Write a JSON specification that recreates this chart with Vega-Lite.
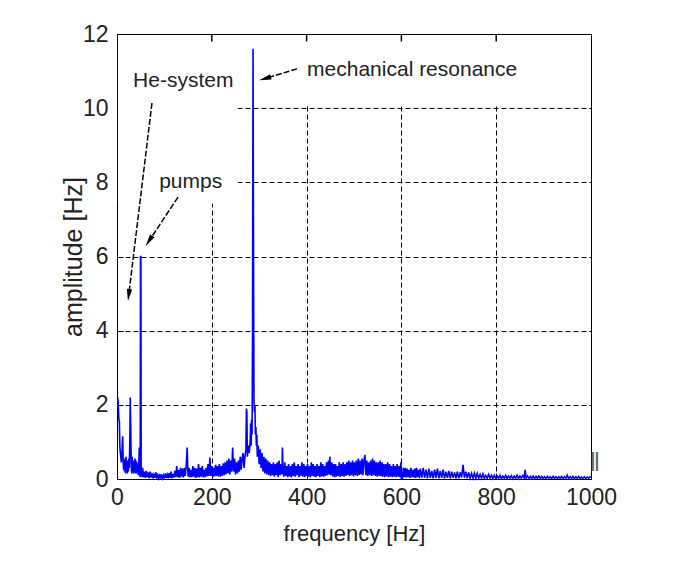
{
  "$schema": "https://vega.github.io/schema/vega-lite/v6.json",
  "autosize": {"type": "none"},
  "padding": {"left": 117, "top": 34, "right": 96, "bottom": 90},
  "width": 474,
  "height": 445,
  "background": "white",
  "config": {
    "view": {"stroke": "black", "strokeWidth": 1},
    "font": "Liberation Sans"
  },
  "datasets": {
    "spectrum": [
      {"f":0,"a":2.2},{"f":1,"a":2.2},{"f":2,"a":2.15},{"f":3,"a":1.9},{"f":4,"a":1.6},{"f":5,"a":1.55},{"f":6,"a":0.9},{"f":7,"a":0.7},{"f":8,"a":0.6},{"f":9,"a":0.45},
      {"f":10,"a":0.55},{"f":11,"a":0.9},{"f":12,"a":1.15},{"f":13,"a":0.5},{"f":14,"a":0.25},{"f":15,"a":0.5},{"f":16,"a":0.2},{"f":17,"a":0.55},{"f":18,"a":0.15},{"f":19,"a":0.6},
      {"f":20,"a":0.2},{"f":21,"a":0.45},{"f":22,"a":0.15},{"f":23,"a":0.5},{"f":24,"a":0.2},{"f":25,"a":0.55},{"f":26,"a":0.3},{"f":27,"a":1.0},{"f":28,"a":2.2},{"f":29,"a":1.4},
      {"f":30,"a":0.4},{"f":31,"a":0.15},{"f":32,"a":0.6},{"f":33,"a":0.2},{"f":34,"a":0.5},{"f":35,"a":0.15},{"f":36,"a":0.45},{"f":37,"a":0.2},{"f":38,"a":0.55},{"f":39,"a":0.15},
      {"f":40,"a":0.5},{"f":41,"a":0.15},{"f":42,"a":0.45},{"f":43,"a":0.2},{"f":44,"a":0.4},{"f":45,"a":0.1},{"f":46,"a":0.35},{"f":47,"a":0.85},{"f":48,"a":0.2},{"f":49,"a":0.05},
      {"f":49.6,"a":6.0},{"f":50.4,"a":6.0},{"f":51,"a":0.1},{"f":52,"a":0.25},{"f":53,"a":0.05},{"f":54,"a":0.3},{"f":56,"a":0.05},{"f":58,"a":0.2},{"f":60,"a":0.03},{"f":62,"a":0.22},{"f":64,"a":0.05},
      {"f":66,"a":0.18},{"f":68,"a":0.02},{"f":70,"a":0.2},{"f":72,"a":0.04},{"f":74,"a":0.15},{"f":76,"a":0.02},{"f":78,"a":0.12},{"f":80,"a":0.03},{"f":82,"a":0.18},{"f":84,"a":0.01},
      {"f":86,"a":0.1},{"f":88,"a":0.02},{"f":90,"a":0.14},{"f":92,"a":0.01},{"f":94,"a":0.12},{"f":96,"a":0.02},{"f":98,"a":0.1},{"f":100,"a":0.01},{"f":102,"a":0.15},{"f":104,"a":0.03},
      {"f":106,"a":0.12},{"f":108,"a":0.02},{"f":110,"a":0.16},{"f":112,"a":0.03},{"f":114,"a":0.2},{"f":116,"a":0.02},{"f":118,"a":0.14},{"f":120,"a":0.04},{"f":122,"a":0.22},{"f":124,"a":0.05},
      {"f":126,"a":0.35},{"f":128,"a":0.05},{"f":130,"a":0.25},{"f":132,"a":0.03},{"f":134,"a":0.3},{"f":136,"a":0.06},{"f":138,"a":0.28},{"f":140,"a":0.04},{"f":142,"a":0.3},{"f":144,"a":0.08},
      {"f":146,"a":0.35},{"f":148,"a":0.85},{"f":149,"a":0.4},{"f":150,"a":0.06},{"f":152,"a":0.3},{"f":154,"a":0.04},{"f":156,"a":0.25},{"f":158,"a":0.05},{"f":160,"a":0.35},{"f":162,"a":0.06},
      {"f":164,"a":0.3},{"f":166,"a":0.03},{"f":168,"a":0.28},{"f":170,"a":0.05},{"f":172,"a":0.4},{"f":174,"a":0.04},{"f":176,"a":0.3},{"f":178,"a":0.06},{"f":180,"a":0.35},{"f":182,"a":0.04},
      {"f":184,"a":0.25},{"f":186,"a":0.05},{"f":188,"a":0.3},{"f":190,"a":0.07},{"f":192,"a":0.4},{"f":194,"a":0.08},{"f":196,"a":0.58},{"f":198,"a":0.08},{"f":200,"a":0.35},{"f":202,"a":0.05},
      {"f":204,"a":0.3},{"f":206,"a":0.07},{"f":208,"a":0.38},{"f":210,"a":0.08},{"f":212,"a":0.35},{"f":214,"a":0.07},{"f":216,"a":0.4},{"f":218,"a":0.06},{"f":220,"a":0.35},{"f":222,"a":0.08},
      {"f":224,"a":0.42},{"f":226,"a":0.1},{"f":228,"a":0.45},{"f":230,"a":0.12},{"f":232,"a":0.5},{"f":234,"a":0.15},{"f":236,"a":0.55},{"f":238,"a":0.12},{"f":240,"a":0.5},{"f":242,"a":0.2},
      {"f":244,"a":0.85},{"f":246,"a":0.2},{"f":248,"a":0.55},{"f":250,"a":0.12},{"f":252,"a":0.45},{"f":254,"a":0.15},{"f":256,"a":0.5},{"f":258,"a":0.2},{"f":260,"a":0.6},{"f":262,"a":0.25},
      {"f":264,"a":0.55},{"f":266,"a":0.7},{"f":268,"a":0.3},{"f":270,"a":0.6},{"f":272,"a":0.8},{"f":273,"a":1.9},{"f":274,"a":1.8},{"f":275,"a":0.6},{"f":277,"a":0.9},{"f":279,"a":0.7},
      {"f":281,"a":1.0},{"f":282,"a":1.5},{"f":283,"a":0.9},{"f":284,"a":1.6},{"f":285,"a":1.2},{"f":286,"a":4.0},{"f":287,"a":11.6},{"f":288,"a":6.0},{"f":289,"a":2.1},{"f":290,"a":1.8},
      {"f":291,"a":2.0},{"f":292,"a":1.2},{"f":293,"a":1.4},{"f":294,"a":0.9},{"f":295,"a":1.2},{"f":296,"a":0.6},{"f":298,"a":0.9},{"f":300,"a":0.4},{"f":302,"a":0.8},{"f":304,"a":0.3},
      {"f":306,"a":0.7},{"f":308,"a":0.2},{"f":310,"a":0.6},{"f":312,"a":0.15},{"f":314,"a":0.55},{"f":316,"a":0.12},{"f":318,"a":0.5},{"f":320,"a":0.1},{"f":322,"a":0.45},{"f":324,"a":0.08},
      {"f":326,"a":0.4},{"f":328,"a":0.1},{"f":330,"a":0.45},{"f":332,"a":0.06},{"f":334,"a":0.4},{"f":336,"a":0.1},{"f":338,"a":0.45},{"f":340,"a":0.05},{"f":342,"a":0.5},{"f":344,"a":0.1},
      {"f":346,"a":0.4},{"f":348,"a":0.12},{"f":349,"a":0.85},{"f":350,"a":0.3},{"f":352,"a":0.06},{"f":354,"a":0.45},{"f":356,"a":0.08},{"f":358,"a":0.35},{"f":360,"a":0.05},{"f":362,"a":0.4},
      {"f":364,"a":0.07},{"f":366,"a":0.35},{"f":368,"a":0.04},{"f":370,"a":0.4},{"f":372,"a":0.08},{"f":374,"a":0.45},{"f":376,"a":0.06},{"f":378,"a":0.35},{"f":380,"a":0.1},{"f":382,"a":0.4},
      {"f":384,"a":0.05},{"f":386,"a":0.35},{"f":388,"a":0.08},{"f":390,"a":0.45},{"f":392,"a":0.06},{"f":394,"a":0.4},{"f":396,"a":0.05},{"f":398,"a":0.35},{"f":400,"a":0.08},{"f":402,"a":0.4},
      {"f":404,"a":0.06},{"f":406,"a":0.35},{"f":408,"a":0.04},{"f":410,"a":0.45},{"f":412,"a":0.08},{"f":414,"a":0.4},{"f":416,"a":0.06},{"f":418,"a":0.35},{"f":420,"a":0.05},{"f":422,"a":0.4},
      {"f":424,"a":0.08},{"f":426,"a":0.35},{"f":428,"a":0.05},{"f":430,"a":0.45},{"f":432,"a":0.07},{"f":434,"a":0.4},{"f":436,"a":0.06},{"f":438,"a":0.35},{"f":440,"a":0.08},{"f":442,"a":0.45},
      {"f":444,"a":0.1},{"f":446,"a":0.5},{"f":448,"a":0.12},{"f":449,"a":0.6},{"f":451,"a":0.1},{"f":453,"a":0.45},{"f":455,"a":0.07},{"f":457,"a":0.4},{"f":459,"a":0.05},{"f":461,"a":0.4},
      {"f":463,"a":0.06},{"f":465,"a":0.35},{"f":467,"a":0.08},{"f":469,"a":0.45},{"f":471,"a":0.05},{"f":473,"a":0.4},{"f":475,"a":0.08},{"f":477,"a":0.45},{"f":479,"a":0.06},{"f":481,"a":0.4},
      {"f":483,"a":0.08},{"f":485,"a":0.45},{"f":487,"a":0.1},{"f":489,"a":0.5},{"f":491,"a":0.08},{"f":493,"a":0.45},{"f":495,"a":0.1},{"f":497,"a":0.5},{"f":499,"a":0.07},{"f":501,"a":0.45},
      {"f":503,"a":0.1},{"f":505,"a":0.5},{"f":507,"a":0.08},{"f":509,"a":0.55},{"f":511,"a":0.1},{"f":513,"a":0.5},{"f":515,"a":0.12},{"f":517,"a":0.55},{"f":519,"a":0.1},{"f":521,"a":0.5},
      {"f":523,"a":0.65},{"f":525,"a":0.1},{"f":527,"a":0.5},{"f":529,"a":0.08},{"f":531,"a":0.45},{"f":533,"a":0.1},{"f":535,"a":0.5},{"f":537,"a":0.08},{"f":539,"a":0.55},{"f":541,"a":0.1},
      {"f":543,"a":0.5},{"f":545,"a":0.08},{"f":547,"a":0.45},{"f":549,"a":0.06},{"f":551,"a":0.45},{"f":553,"a":0.08},{"f":555,"a":0.5},{"f":557,"a":0.07},{"f":559,"a":0.45},{"f":561,"a":0.06},
      {"f":563,"a":0.4},{"f":565,"a":0.05},{"f":567,"a":0.4},{"f":569,"a":0.07},{"f":571,"a":0.45},{"f":573,"a":0.05},{"f":575,"a":0.4},{"f":577,"a":0.06},{"f":579,"a":0.35},{"f":581,"a":0.05},
      {"f":583,"a":0.4},{"f":585,"a":0.06},{"f":587,"a":0.35},{"f":589,"a":0.05},{"f":591,"a":0.4},{"f":593,"a":0.06},{"f":595,"a":0.35},{"f":597,"a":0.05},{"f":599,"a":0.45},{"f":600,"a":0.0},
      {"f":602,"a":0.01},{"f":604,"a":0.3},{"f":606,"a":0.05},{"f":608,"a":0.3},{"f":610,"a":0.04},{"f":612,"a":0.28},{"f":614,"a":0.05},{"f":616,"a":0.25},{"f":618,"a":0.03},{"f":620,"a":0.3},
      {"f":622,"a":0.05},{"f":624,"a":0.25},{"f":626,"a":0.04},{"f":628,"a":0.28},{"f":630,"a":0.03},{"f":632,"a":0.3},{"f":634,"a":0.05},{"f":636,"a":0.25},{"f":638,"a":0.02},{"f":640,"a":0.28},
      {"f":643,"a":0.04},{"f":646,"a":0.3},{"f":649,"a":0.03},{"f":652,"a":0.25},{"f":655,"a":0.02},{"f":658,"a":0.28},{"f":661,"a":0.03},{"f":664,"a":0.22},{"f":667,"a":0.02},{"f":670,"a":0.25},
      {"f":673,"a":0.03},{"f":676,"a":0.28},{"f":679,"a":0.02},{"f":682,"a":0.22},{"f":685,"a":0.03},{"f":688,"a":0.25},{"f":691,"a":0.02},{"f":694,"a":0.2},{"f":697,"a":0.03},{"f":700,"a":0.22},
      {"f":703,"a":0.02},{"f":706,"a":0.2},{"f":709,"a":0.03},{"f":712,"a":0.18},{"f":715,"a":0.02},{"f":718,"a":0.2},{"f":721,"a":0.02},{"f":724,"a":0.18},{"f":727,"a":0.04},{"f":730,"a":0.38},
      {"f":733,"a":0.03},{"f":736,"a":0.2},{"f":739,"a":0.02},{"f":742,"a":0.18},{"f":745,"a":0.02},{"f":748,"a":0.15},{"f":751,"a":0.02},{"f":754,"a":0.16},{"f":757,"a":0.02},{"f":760,"a":0.15},
      {"f":763,"a":0.02},{"f":766,"a":0.12},{"f":769,"a":0.02},{"f":772,"a":0.14},{"f":775,"a":0.02},{"f":778,"a":0.1},{"f":781,"a":0.02},{"f":784,"a":0.12},{"f":787,"a":0.02},{"f":790,"a":0.1},
      {"f":793,"a":0.01},{"f":796,"a":0.1},{"f":799,"a":0.02},{"f":802,"a":0.08},{"f":805,"a":0.02},{"f":808,"a":0.1},{"f":811,"a":0.01},{"f":814,"a":0.08},{"f":817,"a":0.02},{"f":820,"a":0.1},
      {"f":823,"a":0.01},{"f":826,"a":0.08},{"f":829,"a":0.02},{"f":832,"a":0.09},{"f":835,"a":0.01},{"f":838,"a":0.08},{"f":841,"a":0.02},{"f":844,"a":0.1},{"f":847,"a":0.01},{"f":850,"a":0.08},
      {"f":853,"a":0.02},{"f":856,"a":0.09},{"f":859,"a":0.03},{"f":861,"a":0.25},{"f":863,"a":0.02},{"f":866,"a":0.08},{"f":869,"a":0.01},{"f":872,"a":0.07},{"f":875,"a":0.02},{"f":878,"a":0.08},
      {"f":881,"a":0.01},{"f":884,"a":0.07},{"f":887,"a":0.02},{"f":890,"a":0.08},{"f":893,"a":0.01},{"f":896,"a":0.07},{"f":899,"a":0.02},{"f":902,"a":0.06},{"f":905,"a":0.01},{"f":908,"a":0.07},
      {"f":911,"a":0.02},{"f":914,"a":0.06},{"f":917,"a":0.01},{"f":920,"a":0.07},{"f":923,"a":0.02},{"f":926,"a":0.06},{"f":929,"a":0.01},{"f":932,"a":0.06},{"f":935,"a":0.02},{"f":938,"a":0.07},
      {"f":941,"a":0.01},{"f":944,"a":0.06},{"f":947,"a":0.02},{"f":950,"a":0.1},{"f":953,"a":0.01},{"f":956,"a":0.06},{"f":959,"a":0.02},{"f":962,"a":0.07},{"f":965,"a":0.01},{"f":968,"a":0.06},
      {"f":971,"a":0.02},{"f":974,"a":0.07},{"f":977,"a":0.01},{"f":980,"a":0.05},{"f":983,"a":0.02},{"f":986,"a":0.06},{"f":989,"a":0.01},{"f":992,"a":0.05},{"f":995,"a":0.02},{"f":998,"a":0.06},
      {"f":1000,"a":0.05}
    ],
    "masks": [
      {"f1": 2, "f2": 255, "a1": 7.42, "a2": 11.97},
      {"f1": 255, "f2": 998, "a1": 10.06, "a2": 11.97}
    ],
    "topticks": [{"f": 200}, {"f": 400}, {"f": 600}, {"f": 800}],
    "labels": [
      {"text": "He-system", "f": 34, "a": 10.73},
      {"text": "pumps", "f": 89, "a": 8.01},
      {"text": "mechanical resonance", "f": 401, "a": 11.03}
    ],
    "arrows": [
      {"name": "he", "f1": 73.8, "a1": 10.14, "f2": 24.7, "a2": 4.96},
      {"name": "pumps", "f1": 128.7, "a1": 7.6, "f2": 67.5, "a2": 6.42},
      {"name": "mech", "f1": 379.7, "a1": 11.06, "f2": 312.3, "a2": 10.8}
    ],
    "marker": [{"text": "‖", "f": 1008, "a": 0.43}]
  },
  "resolve": {"axis": {"x": "independent", "y": "independent"}},
  "layer": [
    {
      "data": {"name": "masks"},
      "mark": {"type": "rect", "fill": "white", "stroke": null},
      "encoding": {
        "x": {"field": "f1", "type": "quantitative", "scale": {"domain": [0, 1000], "nice": false, "zero": false}, "axis": null},
        "x2": {"field": "f2"},
        "y": {"field": "a1", "type": "quantitative", "scale": {"domain": [0, 12], "nice": false, "zero": false}, "axis": null},
        "y2": {"field": "a2"}
      }
    },
    {
      "data": {"name": "spectrum"},
      "mark": {"type": "line", "color": "#0000ff", "strokeWidth": 1.6, "interpolate": "linear"},
      "encoding": {
        "x": {"field": "f", "type": "quantitative", "scale": {"domain": [0, 1000], "nice": false, "zero": false},
              "axis": {"orient": "bottom", "values": [0, 200, 400, 600, 800, 1000], "format": "d", "labelFlush": false, "grid": true, "gridColor": "black", "gridDash": [5, 3], "gridOpacity": 1, "gridWidth": 1,
                       "domain": false, "ticks": true, "tickSize": -6, "tickColor": "black", "labelFont": "Liberation Sans", "labelFontSize": 23, "labelColor": "#222222", "labelPadding": 13,
                       "title": "frequency [Hz]", "titleFont": "Liberation Sans", "titleFontSize": 22, "titleFontWeight": "normal", "titleColor": "#222222", "titleY": 61, "titleBaseline": "alphabetic", "zindex": 0}},
        "y": {"field": "a", "type": "quantitative", "scale": {"domain": [0, 12], "nice": false, "zero": false},
              "axis": {"orient": "left", "values": [0, 2, 4, 6, 8, 10, 12], "labelFlush": false, "grid": true, "gridColor": "black", "gridDash": [5, 3], "gridOpacity": 1, "gridWidth": 1,
                       "domain": false, "ticks": true, "tickSize": -6, "tickColor": "black", "labelFont": "Liberation Sans", "labelFontSize": 23, "labelColor": "#222222", "labelPadding": 15,
                       "title": "amplitude [Hz]", "titleFont": "Liberation Sans", "titleFontSize": 25, "titleFontWeight": "normal", "titleColor": "#222222", "titleX": -36, "titleBaseline": "alphabetic", "titleAngle": -90, "zindex": 0}}
      }
    },
    {
      "data": {"name": "topticks"},
      "mark": {"type": "rule", "color": "#000000", "strokeWidth": 1.5, "opacity": 1},
      "encoding": {
        "x": {"field": "f", "type": "quantitative", "axis": null},
        "y": {"datum": 12, "type": "quantitative", "axis": null},
        "y2": {"datum": 11.8}
      }
    },
    {
      "data": {"name": "arrows"},
      "mark": {"type": "rule", "color": "black", "strokeWidth": 1.5, "strokeDash": [6, 2]},
      "encoding": {
        "x": {"field": "f1", "type": "quantitative", "axis": null},
        "y": {"field": "a1", "type": "quantitative", "axis": null},
        "x2": {"field": "f2"},
        "y2": {"field": "a2"}
      }
    },
    {
      "data": {"name": "arrows"},
      "transform": [{"filter": "datum.name === 'he'"}],
      "mark": {"type": "point", "shape": "M0,1L-0.45,-1L0.45,-1Z", "filled": true, "color": "black", "opacity": 1, "size": 144, "angle": 7},
      "encoding": {
        "x": {"field": "f2", "type": "quantitative", "axis": null},
        "y": {"field": "a2", "type": "quantitative", "axis": null}
      }
    },
    {
      "data": {"name": "arrows"},
      "transform": [{"filter": "datum.name === 'pumps'"}],
      "mark": {"type": "point", "shape": "M0,1L-0.45,-1L0.45,-1Z", "filled": true, "color": "black", "opacity": 1, "size": 144, "angle": 33},
      "encoding": {
        "x": {"field": "f2", "type": "quantitative", "axis": null},
        "y": {"field": "a2", "type": "quantitative", "axis": null}
      }
    },
    {
      "data": {"name": "arrows"},
      "transform": [{"filter": "datum.name === 'mech'"}],
      "mark": {"type": "point", "shape": "M0,1L-0.45,-1L0.45,-1Z", "filled": true, "color": "black", "opacity": 1, "size": 144, "angle": 74},
      "encoding": {
        "x": {"field": "f2", "type": "quantitative", "axis": null},
        "y": {"field": "a2", "type": "quantitative", "axis": null}
      }
    },
    {
      "data": {"name": "labels"},
      "mark": {"type": "text", "align": "left", "baseline": "middle", "font": "Liberation Sans", "fontSize": 21, "color": "#222222"},
      "encoding": {
        "x": {"field": "f", "type": "quantitative", "axis": null},
        "y": {"field": "a", "type": "quantitative", "axis": null},
        "text": {"field": "text"}
      }
    },
    {
      "data": {"name": "marker"},
      "mark": {"type": "text", "align": "center", "baseline": "middle", "font": "Liberation Sans", "fontSize": 26, "color": "#666666"},
      "encoding": {
        "x": {"field": "f", "type": "quantitative", "axis": null},
        "y": {"field": "a", "type": "quantitative", "axis": null},
        "text": {"field": "text"}
      }
    }
  ]
}
